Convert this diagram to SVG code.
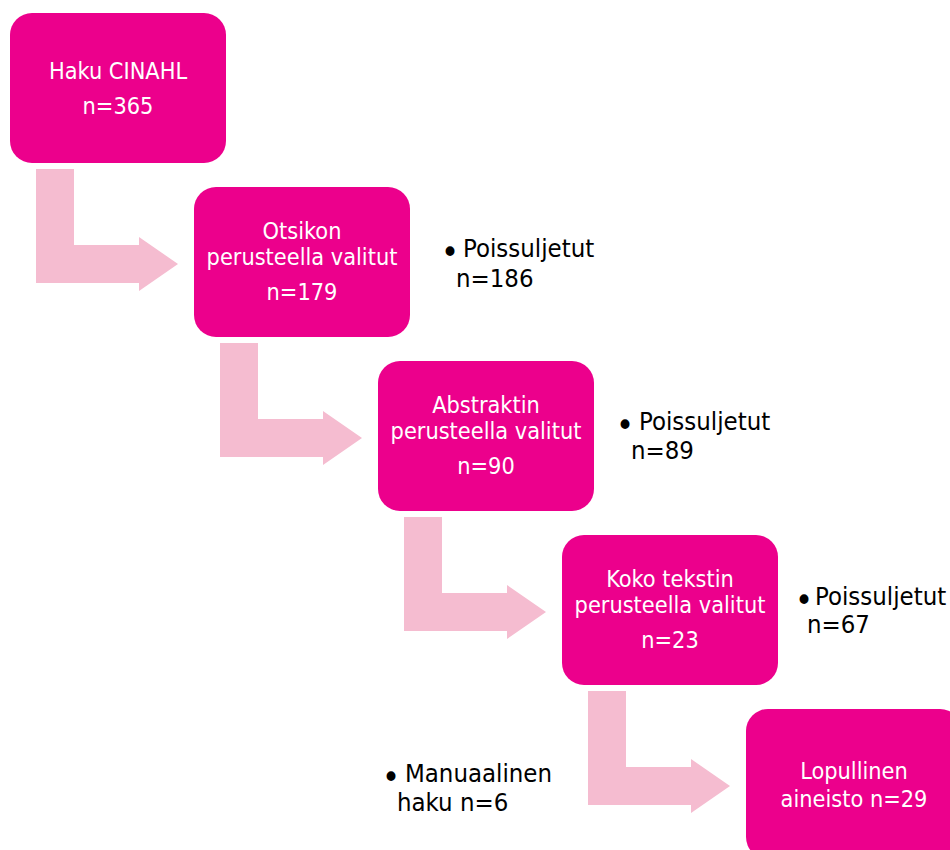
<svg xmlns="http://www.w3.org/2000/svg" width="950" height="850" viewBox="0 0 950 850">
<style>
.box{fill:#EC008C}
.arr{fill:#F5BCD0}
.wt{fill:#fff;font-family:"DejaVu Sans Condensed","DejaVu Sans",sans-serif;font-size:23.3px;text-anchor:middle}
.bt{fill:#000;font-family:"DejaVu Sans Condensed","DejaVu Sans",sans-serif;font-size:25.5px}
.bu{font-size:34px}
</style>
<rect width="950" height="850" fill="#fff"/>
<g id="connectors">
<path class="arr" d="M36,169 H74 V245 H139 V237 L178,264 L139,291 V283 H36 Z"/>
<path class="arr" d="M220,343 H258 V419 H323 V411 L362,438 L323,465 V457 H220 Z"/>
<path class="arr" d="M404,517 H442 V593 H507 V585 L546,612 L507,639 V631 H404 Z"/>
<path class="arr" d="M588,691 H626 V767 H691 V759 L730,786 L691,813 V805 H588 Z"/>
</g>
<g id="n1">
<rect class="box" x="10" y="13" width="216" height="150" rx="22"/>
<text class="wt" x="118" y="79">Haku CINAHL</text>
<text class="wt" x="118" y="114">n=365</text>
</g>
<g id="n2">
<rect class="box" x="194" y="187" width="216" height="150" rx="22"/>
<text class="wt" x="302" y="239">Otsikon</text>
<text class="wt" x="302" y="265">perusteella valitut</text>
<text class="wt" x="302" y="300">n=179</text>
</g>
<g id="n3">
<rect class="box" x="378" y="361" width="216" height="150" rx="22"/>
<text class="wt" x="486" y="413">Abstraktin</text>
<text class="wt" x="486" y="439">perusteella valitut</text>
<text class="wt" x="486" y="474">n=90</text>
</g>
<g id="n4">
<rect class="box" x="562" y="535" width="216" height="150" rx="22"/>
<text class="wt" x="670" y="587">Koko tekstin</text>
<text class="wt" x="670" y="613">perusteella valitut</text>
<text class="wt" x="670" y="648">n=23</text>
</g>
<g id="n5">
<rect class="box" x="746" y="709" width="216" height="150" rx="22"/>
<text class="wt" x="854" y="779">Lopullinen</text>
<text class="wt" x="854" y="807">aineisto n=29</text>
</g>
<g id="e1">
<text class="bt" y="257"><tspan class="bu" x="441" dy="7">•</tspan><tspan x="463" dy="-7">Poissuljetut</tspan></text>
<text class="bt" x="456" y="287">n=186</text>
</g>
<g id="e2">
<text class="bt" y="430"><tspan class="bu" x="616" dy="7">•</tspan><tspan x="639" dy="-7">Poissuljetut</tspan></text>
<text class="bt" x="631" y="459">n=89</text>
</g>
<g id="e3">
<text class="bt" y="605"><tspan class="bu" x="795" dy="7">•</tspan><tspan x="815" dy="-7">Poissuljetut</tspan></text>
<text class="bt" x="807" y="633">n=67</text>
</g>
<g id="m1">
<text class="bt" y="782"><tspan class="bu" x="382" dy="7">•</tspan><tspan x="405" dy="-7">Manuaalinen</tspan></text>
<text class="bt" x="397" y="811">haku n=6</text>
</g>
</svg>
